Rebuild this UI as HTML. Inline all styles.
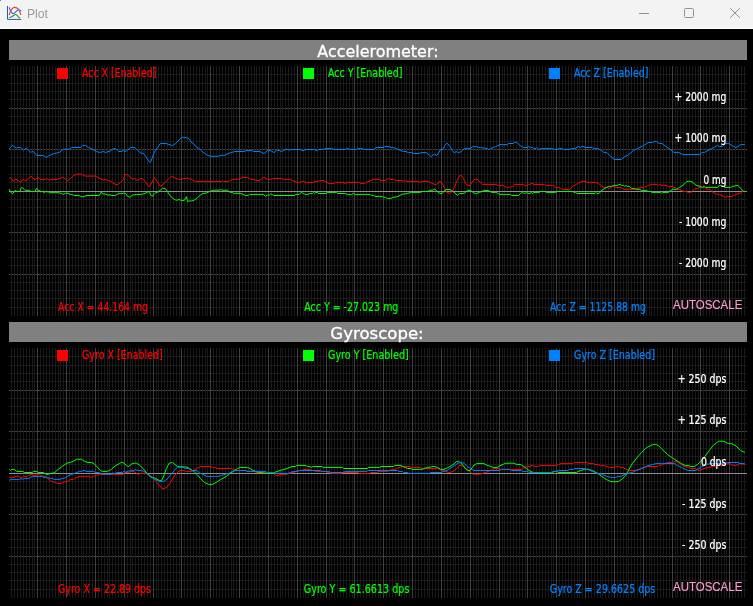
<!DOCTYPE html>
<html><head><meta charset="utf-8"><title>Plot</title>
<style>
html,body{margin:0;padding:0;background:#000;overflow:hidden}
body{width:753px;height:606px;position:relative;font-family:"Liberation Sans","DejaVu Sans",sans-serif}
#tb{position:absolute;left:0;top:0;width:753px;height:28px;background:#f3f3f3;border-bottom:1px solid #fff}
#tb .title{position:absolute;left:27px;top:7px;font-size:12.1px;color:#9a9a9a;line-height:15px;letter-spacing:0}
svg{position:absolute;left:0;top:0;will-change:transform}
#tb .title{will-change:transform}
.t{stroke-width:0.22px;paint-order:stroke;font-family:"DejaVu Sans Condensed","DejaVu Sans","Liberation Sans",sans-serif}
.h{stroke:#fff;stroke-width:0.3px;font-family:"DejaVu Sans","Liberation Sans",sans-serif}
.a{stroke:#ff9acd;stroke-width:0.15px;font-family:"Liberation Sans",sans-serif}
</style></head><body>
<div id="tb"><span class="title">Plot</span></div>
<svg width="753" height="606" viewBox="0 0 753 606">
<rect x="0" y="0" width="1" height="1" fill="#4a86c8"/>
<!-- window icon -->
<g fill="none" stroke-linecap="round" stroke-linejoin="round">
<path d="M7.5 6.3V19.4H20.8" stroke="#1f5fb0" stroke-width="1"/>
<path d="M14.6 7.4C15.8 7.4 17.6 8.4 18.7 9.5" stroke="#f03a3a" stroke-width="1.2"/>
<path d="M19.5 11.4C20.1 12.3 20.5 13.4 20.7 14.5" stroke="#f03a3a" stroke-width="1.2"/>
<path d="M9.3 7.6C9.6 9.2 10.4 11 11.3 12.2C12 13.2 12.6 13.7 13.3 13.7C14 13.7 14.5 13.1 15 12.6C15.8 11.8 16.5 10.9 17.3 10.4C18 9.9 18.6 9.9 19.2 10C19.8 10.2 20.3 10.5 20.8 10.8" stroke="#2a78e4" stroke-width="1.2"/>
<path d="M9.3 14.6C9.7 12.6 10.9 10.4 12.2 8.7C13 7.7 13.8 7.4 14.6 7.4" stroke="#f03a3a" stroke-width="1.2"/>
<path d="M9.4 17.5C10.3 17.5 11 17.2 11.7 16.8C12.6 16.3 13.2 15.7 13.9 15.2C14.5 14.8 15 14.5 15.6 14.5C16.2 14.5 16.7 14.8 17.2 15.3C17.7 15.9 18.1 16.6 18.5 17.2C18.8 17.6 19.2 17.8 19.7 17.9" stroke="#3c963c" stroke-width="1.2"/>
</g>
<!-- caption buttons -->
<g stroke="#929292" stroke-width="1" fill="none">
<path d="M639 13.5H649"/>
<rect x="684.5" y="8.5" width="9" height="9" rx="1"/>
<path d="M730.2 8.2L739.8 17.8M739.8 8.2L730.2 17.8"/>
</g>
<rect x="9" y="40" width="738" height="20" fill="#808080"/>
<text class="h" x="317.3" y="56.7" fill="#ffffff" font-size="15.5" text-anchor="start" textLength="121.3" lengthAdjust="spacingAndGlyphs">Accelerometer:</text>
<path d="M9 74.5H747 M9 83.5H747 M9 91.5H747 M9 99.5H747 M9 116.5H747 M9 124.5H747 M9 132.5H747 M9 141.5H747 M9 157.5H747 M9 166.5H747 M9 174.5H747 M9 182.5H747 M9 199.5H747 M9 207.5H747 M9 215.5H747 M9 224.5H747 M9 240.5H747 M9 249.5H747 M9 257.5H747 M9 265.5H747 M9 282.5H747 M9 290.5H747 M9 298.5H747 M9 307.5H747" stroke="#1b1b1b" stroke-width="1" fill="none"/>
<path d="M9 108.5H747 M9 149.5H747 M9 232.5H747 M9 274.5H747" stroke="#444444" stroke-width="1" fill="none"/>
<path d="M11.5 66V316 M14.5 66V316 M17.5 66V316 M20.5 66V316 M23.5 66V316 M26.5 66V316 M29.5 66V316 M32.5 66V316 M34.5 66V316 M40.5 66V316 M43.5 66V316 M46.5 66V316 M49.5 66V316 M52.5 66V316 M55.5 66V316 M58.5 66V316 M60.5 66V316 M63.5 66V316 M69.5 66V316 M72.5 66V316 M75.5 66V316 M78.5 66V316 M81.5 66V316 M83.5 66V316 M86.5 66V316 M89.5 66V316 M92.5 66V316 M98.5 66V316 M101.5 66V316 M104.5 66V316 M107.5 66V316 M109.5 66V316 M112.5 66V316 M115.5 66V316 M118.5 66V316 M121.5 66V316 M127.5 66V316 M130.5 66V316 M132.5 66V316 M135.5 66V316 M138.5 66V316 M141.5 66V316 M144.5 66V316 M147.5 66V316 M150.5 66V316 M156.5 66V316 M158.5 66V316 M161.5 66V316 M164.5 66V316 M167.5 66V316 M170.5 66V316 M173.5 66V316 M176.5 66V316 M179.5 66V316 M184.5 66V316 M187.5 66V316 M190.5 66V316 M193.5 66V316 M196.5 66V316 M199.5 66V316 M202.5 66V316 M205.5 66V316 M207.5 66V316 M213.5 66V316 M216.5 66V316 M219.5 66V316 M222.5 66V316 M225.5 66V316 M228.5 66V316 M231.5 66V316 M233.5 66V316 M236.5 66V316 M242.5 66V316 M245.5 66V316 M248.5 66V316 M251.5 66V316 M254.5 66V316 M256.5 66V316 M259.5 66V316 M262.5 66V316 M265.5 66V316 M271.5 66V316 M274.5 66V316 M277.5 66V316 M280.5 66V316 M282.5 66V316 M285.5 66V316 M288.5 66V316 M291.5 66V316 M294.5 66V316 M300.5 66V316 M303.5 66V316 M305.5 66V316 M308.5 66V316 M311.5 66V316 M314.5 66V316 M317.5 66V316 M320.5 66V316 M323.5 66V316 M329.5 66V316 M331.5 66V316 M334.5 66V316 M337.5 66V316 M340.5 66V316 M343.5 66V316 M346.5 66V316 M349.5 66V316 M352.5 66V316 M357.5 66V316 M360.5 66V316 M363.5 66V316 M366.5 66V316 M369.5 66V316 M372.5 66V316 M375.5 66V316 M378.5 66V316 M380.5 66V316 M386.5 66V316 M389.5 66V316 M392.5 66V316 M395.5 66V316 M398.5 66V316 M401.5 66V316 M404.5 66V316 M406.5 66V316 M409.5 66V316 M415.5 66V316 M418.5 66V316 M421.5 66V316 M424.5 66V316 M427.5 66V316 M429.5 66V316 M432.5 66V316 M435.5 66V316 M438.5 66V316 M444.5 66V316 M447.5 66V316 M450.5 66V316 M453.5 66V316 M455.5 66V316 M458.5 66V316 M461.5 66V316 M464.5 66V316 M467.5 66V316 M473.5 66V316 M476.5 66V316 M478.5 66V316 M481.5 66V316 M484.5 66V316 M487.5 66V316 M490.5 66V316 M493.5 66V316 M496.5 66V316 M502.5 66V316 M504.5 66V316 M507.5 66V316 M510.5 66V316 M513.5 66V316 M516.5 66V316 M519.5 66V316 M522.5 66V316 M525.5 66V316 M530.5 66V316 M533.5 66V316 M536.5 66V316 M539.5 66V316 M542.5 66V316 M545.5 66V316 M548.5 66V316 M551.5 66V316 M553.5 66V316 M559.5 66V316 M562.5 66V316 M565.5 66V316 M568.5 66V316 M571.5 66V316 M574.5 66V316 M577.5 66V316 M579.5 66V316 M582.5 66V316 M588.5 66V316 M591.5 66V316 M594.5 66V316 M597.5 66V316 M600.5 66V316 M602.5 66V316 M605.5 66V316 M608.5 66V316 M611.5 66V316 M617.5 66V316 M620.5 66V316 M623.5 66V316 M626.5 66V316 M628.5 66V316 M631.5 66V316 M634.5 66V316 M637.5 66V316 M640.5 66V316 M646.5 66V316 M649.5 66V316 M651.5 66V316 M654.5 66V316 M657.5 66V316 M660.5 66V316 M663.5 66V316 M666.5 66V316 M669.5 66V316 M675.5 66V316 M677.5 66V316 M680.5 66V316 M683.5 66V316 M686.5 66V316 M689.5 66V316 M692.5 66V316 M695.5 66V316 M698.5 66V316 M703.5 66V316 M706.5 66V316 M709.5 66V316 M712.5 66V316 M715.5 66V316 M718.5 66V316 M721.5 66V316 M724.5 66V316 M726.5 66V316 M732.5 66V316 M735.5 66V316 M738.5 66V316 M741.5 66V316 M744.5 66V316" stroke="#1b1b1b" stroke-width="1" fill="none"/>
<path d="M37.5 66V316 M66.5 66V316 M95.5 66V316 M124.5 66V316 M153.5 66V316 M181.5 66V316 M210.5 66V316 M239.5 66V316 M268.5 66V316 M297.5 66V316 M326.5 66V316 M354.5 66V316 M383.5 66V316 M412.5 66V316 M441.5 66V316 M470.5 66V316 M499.5 66V316 M527.5 66V316 M556.5 66V316 M585.5 66V316 M614.5 66V316 M643.5 66V316 M672.5 66V316 M700.5 66V316 M729.5 66V316" stroke="#404040" stroke-width="1" fill="none"/>
<path d="M9 191.5H747" stroke="#8e8e8e" stroke-width="1" fill="none"/>
<rect x="57" y="68" width="11" height="11" fill="#ff0000"/>
<text class="t" x="82" y="76.7" fill="#ff0000" stroke="#ff0000" font-size="11.4" text-anchor="start" textLength="74.4" lengthAdjust="spacingAndGlyphs">Acc X [Enabled]</text>
<rect x="303" y="68" width="11" height="11" fill="#00ff00"/>
<text class="t" x="328" y="76.7" fill="#00ff00" stroke="#00ff00" font-size="11.4" text-anchor="start" textLength="74.4" lengthAdjust="spacingAndGlyphs">Acc Y [Enabled]</text>
<rect x="549" y="68" width="11" height="11" fill="#0080ff"/>
<text class="t" x="574" y="76.7" fill="#0080ff" stroke="#0080ff" font-size="11.4" text-anchor="start" textLength="74.4" lengthAdjust="spacingAndGlyphs">Acc Z [Enabled]</text>
<polyline points="9.2,178.5 10.6,177.5 13.2,181.4 15.9,179.1 18.0,180.5 20.7,182.4 23.3,179.1 24.6,180.5 26.2,180.5 30.9,176.2 34.9,179.8 37.9,177.4 40.6,179.5 45.5,179.5 46.4,178.5 49.5,180.2 50.8,179.4 57.5,179.4 58.8,178.5 60.8,178.2 62.8,177.1 67.4,180.7 68.8,180.2 74.1,175.1 77.4,174.2 81.4,174.2 85.3,176.1 95.3,176.1 100.6,178.9 103.7,180.2 106.0,179.5 107.3,180.5 109.3,180.5 112.6,182.7 115.9,184.7 117.9,184.4 120.6,182.4 123.2,179.8 125.2,174.8 127.2,174.5 129.9,176.9 132.5,179.1 134.8,178.5 137.2,180.5 140.5,178.5 142.5,178.5 145.2,181.8 148.5,186.4 149.8,186.2 154.4,177.5 160.4,186.4 162.4,185.1 168.4,178.9 171.7,176.5 174.4,177.8 178.3,179.4 181.0,179.4 183.7,178.5 186.3,178.5 187.7,177.5 189.0,179.1 190.3,178.7 193.0,180.2 195.6,181.4 221.6,181.5 222.6,180.5 223.6,181.5 228.2,181.5 230.2,180.5 232.8,179.5 238.8,179.1 242.8,177.4 247.5,177.4 250.8,179.4 254.1,179.4 256.8,180.5 259.4,180.5 263.4,177.4 264.7,177.4 267.4,179.4 270.7,179.4 273.4,178.5 281.3,178.5 283.3,179.4 290.6,179.4 294.0,181.4 297.3,182.4 300.0,182.4 301.9,181.4 303.9,181.4 305.9,182.4 313.2,182.4 315.2,181.4 318.6,181.4 319.9,180.5 323.2,180.5 325.9,181.8 328.5,183.4 333.8,183.4 335.8,182.4 343.1,182.4 345.1,183.5 347.1,182.4 359.1,182.4 361.1,183.5 364.4,183.5 366.4,182.2 369.7,181.1 373.0,179.4 379.0,179.4 381.0,180.5 384.9,180.5 388.3,178.5 391.0,179.4 393.6,179.4 395.6,180.5 401.6,180.5 402.9,181.4 404.3,180.5 406.2,181.4 418.2,181.4 420.2,182.4 422.9,181.4 428.2,181.4 430.1,182.4 432.1,183.4 434.8,184.4 436.8,184.4 439.2,181.5 440.8,181.5 442.8,184.4 445.4,190.4 447.4,193.1 450.7,193.1 452.7,190.4 454.7,186.4 458.0,178.5 460.0,175.4 461.4,175.4 463.4,178.5 466.0,184.4 467.3,185.4 470.0,185.4 472.0,182.4 474.6,179.4 477.3,179.4 479.9,181.8 482.7,184.4 496.6,184.4 497.9,185.4 502.6,185.4 504.6,186.4 506.6,187.4 509.2,187.4 510.5,186.2 511.9,187.4 514.5,184.4 523.2,184.4 525.1,185.5 527.1,185.5 528.5,184.4 529.8,184.4 531.8,183.1 533.8,184.4 544.4,184.4 545.7,185.4 552.4,185.4 554.4,186.4 555.7,187.4 559.0,187.4 562.3,189.5 569.6,189.5 573.0,186.2 576.3,184.4 578.3,183.1 582.3,181.4 585.0,181.4 587.0,182.4 596.2,182.4 599.6,184.4 603.5,187.4 606.9,187.4 609.5,188.4 612.2,186.4 614.2,186.4 616.2,187.4 620.8,187.4 624.1,189.3 634.1,189.3 636.1,188.4 638.1,188.4 639.4,187.4 644.1,187.4 647.4,185.8 650.7,184.4 656.7,184.4 658.0,185.5 659.3,184.4 661.3,185.4 666.3,185.4 668.3,186.4 672.3,186.4 676.2,188.4 678.9,189.3 683.5,191.5 686.2,191.5 688.2,192.4 690.9,192.4 694.2,189.3 697.5,188.4 700.1,187.4 702.8,187.4 705.5,188.4 707.5,189.3 710.1,189.3 712.8,192.4 715.4,193.5 717.4,194.4 719.4,194.4 723.4,196.4 725.4,197.3 727.4,196.4 732.0,196.4 736.0,194.4 740.6,193.1 742.6,191.5 744.9,191.5" stroke="#ff0000" stroke-width="1" fill="none" stroke-linejoin="round"/>
<polyline points="9.2,189.1 10.3,192.0 12.7,193.7 14.0,191.8 15.6,190.2 16.3,191.5 19.9,191.5 21.2,187.8 22.5,187.8 24.3,189.5 26.0,190.4 29.6,190.2 30.9,191.5 34.9,191.5 36.6,188.4 38.2,190.4 39.8,190.4 40.9,191.8 42.9,191.5 43.5,192.4 45.5,191.8 48.2,191.8 49.5,192.7 58.1,192.7 60.8,193.3 63.4,194.4 65.4,193.3 68.1,193.3 70.1,194.4 72.7,194.8 74.1,195.5 78.7,195.5 81.4,196.7 84.0,196.7 86.0,195.5 99.3,195.5 101.3,191.8 102.7,194.0 105.3,194.0 108.0,195.1 110.0,194.8 112.0,195.5 115.3,195.5 118.6,193.7 121.2,193.7 123.9,193.1 125.9,193.7 127.9,196.7 129.9,197.3 132.5,195.1 136.5,194.4 141.8,194.4 145.2,193.3 148.5,191.5 151.8,196.4 155.8,192.7 158.4,191.8 162.4,188.4 165.1,188.4 167.1,191.1 169.7,195.1 172.4,198.0 175.7,200.1 177.7,200.1 179.0,199.4 181.0,200.4 184.3,200.4 186.3,196.7 187.7,201.7 189.2,200.8 191.6,201.0 194.3,200.1 196.9,198.4 200.3,195.1 203.0,193.3 206.3,193.1 209.6,191.5 213.6,190.2 219.6,190.2 220.5,189.1 221.6,190.2 227.5,190.2 230.2,192.4 232.2,192.4 233.5,193.3 240.8,193.3 245.5,195.5 248.1,195.5 249.4,194.4 263.4,194.4 265.4,196.4 267.4,195.1 269.4,195.1 270.7,194.0 272.0,194.4 273.4,195.5 294.6,195.5 296.0,194.4 299.3,194.4 301.3,192.4 303.3,193.5 305.3,194.4 307.9,194.4 309.9,193.5 312.6,193.3 313.6,192.4 314.6,193.3 315.9,192.4 317.2,192.4 318.6,193.5 325.9,193.5 327.9,192.4 336.5,192.4 337.8,193.5 345.1,193.5 347.1,194.4 351.8,194.4 353.5,193.3 355.1,194.4 370.4,194.4 371.7,195.5 373.7,195.5 375.0,196.4 382.3,196.4 383.6,197.3 385.6,197.3 386.9,198.4 387.7,198.4 391.0,198.4 393.0,197.3 395.6,197.1 398.9,196.0 401.6,194.4 406.9,193.5 411.6,192.4 420.2,192.4 422.2,191.5 427.5,191.5 429.5,190.4 432.8,190.2 434.8,189.1 436.1,190.2 438.1,192.4 440.1,193.5 442.1,193.5 444.1,191.1 446.1,189.5 450.1,189.5 452.1,191.1 454.1,192.4 457.4,195.3 459.4,193.5 462.0,193.5 464.7,193.1 467.3,190.4 470.0,190.2 472.0,191.5 474.0,193.1 476.6,193.5 479.3,192.4 481.9,191.5 483.3,190.4 488.0,190.4 490.0,191.5 491.9,192.4 495.9,192.4 498.6,193.5 499.9,194.4 510.5,194.4 511.9,195.5 518.5,195.5 520.5,193.5 522.5,192.4 523.8,193.3 525.8,193.3 526.8,192.4 527.8,193.5 529.8,193.5 531.1,192.4 532.5,193.5 533.8,192.4 539.1,192.4 540.4,191.5 545.1,191.5 546.4,192.4 555.7,192.4 557.0,191.5 572.3,191.5 574.3,192.4 575.6,192.4 577.0,193.5 594.9,193.5 596.0,192.4 596.9,193.5 598.9,193.5 601.6,190.4 604.9,188.4 608.2,186.4 611.5,186.4 613.5,185.4 617.5,185.4 618.8,184.4 620.1,184.4 621.5,185.4 623.5,185.4 624.8,186.4 626.1,185.4 627.5,186.4 629.5,186.4 631.4,188.4 634.1,188.4 635.4,189.3 640.1,189.3 641.4,190.4 646.7,190.4 648.0,191.5 650.7,191.5 652.0,192.4 660.7,192.4 661.6,193.3 662.6,192.4 668.3,192.4 672.3,189.3 676.9,189.3 679.6,187.4 682.9,185.4 686.9,181.5 689.5,181.1 692.8,182.4 696.2,185.4 700.1,186.4 702.8,187.4 704.1,186.2 705.5,187.4 717.4,187.4 720.1,185.1 722.1,186.4 723.4,186.4 724.7,187.4 730.7,187.4 732.7,186.2 734.7,186.2 736.0,185.4 738.0,185.4 740.6,188.4 744.0,191.5 744.9,191.5" stroke="#00ff00" stroke-width="1" fill="none" stroke-linejoin="round"/>
<polyline points="9.2,149.0 12.3,145.3 14.3,146.9 16.7,148.2 17.6,147.4 20.7,147.4 23.6,150.3 26.0,148.2 27.8,149.5 30.9,152.6 32.2,151.2 34.0,152.2 36.6,155.5 43.5,155.5 46.4,157.5 48.8,155.6 50.8,155.1 54.1,153.5 56.1,153.2 59.5,152.3 63.4,149.2 69.4,149.2 71.4,147.5 80.7,147.5 82.7,145.4 85.3,145.4 88.7,147.5 91.3,148.6 96.6,151.6 99.3,152.4 104.0,151.6 105.3,152.6 108.0,151.6 110.0,151.2 113.3,148.6 115.9,148.6 118.6,151.5 121.2,151.5 123.2,150.6 125.9,151.5 130.5,147.5 134.8,147.5 137.8,150.6 141.2,153.2 143.2,153.2 145.8,156.6 149.8,162.5 151.1,161.2 153.8,153.2 160.4,143.5 166.4,143.5 169.1,144.6 172.4,145.5 175.7,143.5 180.3,138.6 182.3,137.3 185.0,137.3 189.0,138.6 191.6,142.6 193.6,143.7 196.9,147.7 198.3,147.7 201.0,150.6 204.3,153.2 207.6,155.5 210.9,156.3 218.2,156.3 220.2,155.5 224.9,155.2 228.2,153.5 230.9,152.6 234.8,151.5 244.1,151.5 246.1,150.6 252.1,150.6 253.4,151.5 260.1,151.5 262.7,153.2 264.7,153.2 267.4,150.6 270.7,150.6 274.0,152.6 276.7,150.3 279.3,150.6 281.3,151.5 283.3,150.6 286.0,149.2 288.0,149.5 289.3,150.3 290.6,149.5 300.6,149.5 301.9,150.6 303.9,150.6 305.3,149.5 314.6,149.5 315.9,150.6 317.2,150.6 318.6,149.5 323.2,149.5 324.8,148.6 332.5,148.6 333.8,149.5 345.1,149.5 346.4,148.6 348.4,148.6 349.8,149.5 356.4,149.5 357.7,148.6 362.4,148.6 363.7,149.5 373.7,149.5 376.3,147.5 383.0,147.5 384.6,146.6 389.0,146.6 391.0,147.5 393.6,147.5 395.6,148.6 397.6,149.2 400.9,150.6 403.6,151.5 406.2,151.5 408.2,152.6 411.6,152.6 413.6,153.5 418.9,153.5 420.9,152.6 426.2,152.6 428.8,154.6 430.8,156.6 433.5,154.6 434.8,154.3 436.8,155.5 438.8,152.6 440.5,149.5 442.8,149.5 444.8,145.3 446.4,143.5 448.1,143.9 450.1,146.6 452.1,150.6 454.1,152.6 456.1,151.6 458.7,152.6 461.4,151.6 464.0,148.6 466.0,148.6 468.0,148.2 470.0,148.6 472.6,146.6 476.6,146.6 478.6,147.5 480.6,147.5 487.3,148.6 488.6,149.5 490.6,148.6 493.3,147.5 495.9,146.6 499.9,144.6 507.2,144.6 508.6,143.5 513.2,143.5 514.5,142.3 516.5,142.3 519.8,145.3 523.2,147.5 527.1,147.5 528.5,146.6 530.5,147.5 532.5,147.5 533.8,148.6 535.8,148.6 536.8,147.5 537.8,148.6 539.1,149.5 541.1,148.6 552.4,148.6 554.4,149.5 557.0,149.5 559.0,148.6 562.3,148.6 563.7,149.5 569.6,149.5 571.6,148.6 575.0,148.6 578.3,146.6 580.3,147.5 583.0,146.3 585.6,147.5 592.3,147.5 594.3,148.6 598.2,148.6 601.6,150.6 604.2,152.6 606.9,152.6 610.9,156.6 614.2,159.5 621.5,159.5 624.8,156.3 627.5,155.5 633.4,150.6 637.4,148.6 644.1,145.3 648.0,142.6 652.7,142.3 654.7,141.3 656.7,141.6 659.3,143.5 662.0,143.5 666.3,146.6 670.3,149.5 674.2,152.6 678.9,152.6 682.9,154.6 699.5,154.6 702.1,152.6 704.1,152.6 711.4,148.6 714.1,147.5 717.4,145.3 719.4,146.6 722.1,146.6 726.0,143.3 728.7,143.5 732.7,145.9 736.0,147.7 738.0,146.6 740.6,144.6 744.9,144.6" stroke="#0080ff" stroke-width="1" fill="none" stroke-linejoin="round"/>
<text class="t" x="58" y="310.7" fill="#ff0000" stroke="#ff0000" font-size="11.4" text-anchor="start" textLength="90" lengthAdjust="spacingAndGlyphs">Acc X = 44.164 mg</text>
<text class="t" x="304.2" y="310.7" fill="#00ff00" stroke="#00ff00" font-size="11.4" text-anchor="start" textLength="94.2" lengthAdjust="spacingAndGlyphs">Acc Y = -27.023 mg</text>
<text class="t" x="550" y="310.7" fill="#0080ff" stroke="#0080ff" font-size="11.4" text-anchor="start" textLength="96" lengthAdjust="spacingAndGlyphs">Acc Z = 1125.88 mg</text>
<text class="t" x="674.5" y="100.7" fill="#ffffff" stroke="#ffffff" stroke-width="0.12" font-size="11.4" text-anchor="start" textLength="51.8" lengthAdjust="spacingAndGlyphs">+ 2000 mg</text>
<text class="t" x="674.5" y="142.37" fill="#ffffff" stroke="#ffffff" stroke-width="0.12" font-size="11.4" text-anchor="start" textLength="51.8" lengthAdjust="spacingAndGlyphs">+ 1000 mg</text>
<text class="t" x="703.5" y="184.04000000000002" fill="#ffffff" stroke="#ffffff" stroke-width="0.12" font-size="11.4" text-anchor="start" textLength="22.8" lengthAdjust="spacingAndGlyphs">0 mg</text>
<text class="t" x="678.9" y="225.71" fill="#ffffff" stroke="#ffffff" stroke-width="0.12" font-size="11.4" text-anchor="start" textLength="47.4" lengthAdjust="spacingAndGlyphs">- 1000 mg</text>
<text class="t" x="678.9" y="267.38" fill="#ffffff" stroke="#ffffff" stroke-width="0.12" font-size="11.4" text-anchor="start" textLength="47.4" lengthAdjust="spacingAndGlyphs">- 2000 mg</text>
<text class="a" x="673" y="309" fill="#ff9acd" font-size="12.2" text-anchor="start" textLength="69.3" lengthAdjust="spacingAndGlyphs">AUTOSCALE</text>
<rect x="9" y="322" width="738" height="20" fill="#808080"/>
<text class="h" x="330.3" y="338.7" fill="#ffffff" font-size="15.5" text-anchor="start" textLength="93.4" lengthAdjust="spacingAndGlyphs">Gyroscope:</text>
<path d="M9 356.5H747 M9 365.5H747 M9 373.5H747 M9 381.5H747 M9 398.5H747 M9 406.5H747 M9 414.5H747 M9 423.5H747 M9 439.5H747 M9 448.5H747 M9 456.5H747 M9 464.5H747 M9 481.5H747 M9 489.5H747 M9 497.5H747 M9 506.5H747 M9 522.5H747 M9 531.5H747 M9 539.5H747 M9 547.5H747 M9 564.5H747 M9 572.5H747 M9 580.5H747 M9 589.5H747" stroke="#1b1b1b" stroke-width="1" fill="none"/>
<path d="M9 390.5H747 M9 431.5H747 M9 514.5H747 M9 556.5H747" stroke="#444444" stroke-width="1" fill="none"/>
<path d="M11.5 348V598 M14.5 348V598 M17.5 348V598 M20.5 348V598 M23.5 348V598 M26.5 348V598 M29.5 348V598 M32.5 348V598 M34.5 348V598 M40.5 348V598 M43.5 348V598 M46.5 348V598 M49.5 348V598 M52.5 348V598 M55.5 348V598 M58.5 348V598 M60.5 348V598 M63.5 348V598 M69.5 348V598 M72.5 348V598 M75.5 348V598 M78.5 348V598 M81.5 348V598 M83.5 348V598 M86.5 348V598 M89.5 348V598 M92.5 348V598 M98.5 348V598 M101.5 348V598 M104.5 348V598 M107.5 348V598 M109.5 348V598 M112.5 348V598 M115.5 348V598 M118.5 348V598 M121.5 348V598 M127.5 348V598 M130.5 348V598 M132.5 348V598 M135.5 348V598 M138.5 348V598 M141.5 348V598 M144.5 348V598 M147.5 348V598 M150.5 348V598 M156.5 348V598 M158.5 348V598 M161.5 348V598 M164.5 348V598 M167.5 348V598 M170.5 348V598 M173.5 348V598 M176.5 348V598 M179.5 348V598 M184.5 348V598 M187.5 348V598 M190.5 348V598 M193.5 348V598 M196.5 348V598 M199.5 348V598 M202.5 348V598 M205.5 348V598 M207.5 348V598 M213.5 348V598 M216.5 348V598 M219.5 348V598 M222.5 348V598 M225.5 348V598 M228.5 348V598 M231.5 348V598 M233.5 348V598 M236.5 348V598 M242.5 348V598 M245.5 348V598 M248.5 348V598 M251.5 348V598 M254.5 348V598 M256.5 348V598 M259.5 348V598 M262.5 348V598 M265.5 348V598 M271.5 348V598 M274.5 348V598 M277.5 348V598 M280.5 348V598 M282.5 348V598 M285.5 348V598 M288.5 348V598 M291.5 348V598 M294.5 348V598 M300.5 348V598 M303.5 348V598 M305.5 348V598 M308.5 348V598 M311.5 348V598 M314.5 348V598 M317.5 348V598 M320.5 348V598 M323.5 348V598 M329.5 348V598 M331.5 348V598 M334.5 348V598 M337.5 348V598 M340.5 348V598 M343.5 348V598 M346.5 348V598 M349.5 348V598 M352.5 348V598 M357.5 348V598 M360.5 348V598 M363.5 348V598 M366.5 348V598 M369.5 348V598 M372.5 348V598 M375.5 348V598 M378.5 348V598 M380.5 348V598 M386.5 348V598 M389.5 348V598 M392.5 348V598 M395.5 348V598 M398.5 348V598 M401.5 348V598 M404.5 348V598 M406.5 348V598 M409.5 348V598 M415.5 348V598 M418.5 348V598 M421.5 348V598 M424.5 348V598 M427.5 348V598 M429.5 348V598 M432.5 348V598 M435.5 348V598 M438.5 348V598 M444.5 348V598 M447.5 348V598 M450.5 348V598 M453.5 348V598 M455.5 348V598 M458.5 348V598 M461.5 348V598 M464.5 348V598 M467.5 348V598 M473.5 348V598 M476.5 348V598 M478.5 348V598 M481.5 348V598 M484.5 348V598 M487.5 348V598 M490.5 348V598 M493.5 348V598 M496.5 348V598 M502.5 348V598 M504.5 348V598 M507.5 348V598 M510.5 348V598 M513.5 348V598 M516.5 348V598 M519.5 348V598 M522.5 348V598 M525.5 348V598 M530.5 348V598 M533.5 348V598 M536.5 348V598 M539.5 348V598 M542.5 348V598 M545.5 348V598 M548.5 348V598 M551.5 348V598 M553.5 348V598 M559.5 348V598 M562.5 348V598 M565.5 348V598 M568.5 348V598 M571.5 348V598 M574.5 348V598 M577.5 348V598 M579.5 348V598 M582.5 348V598 M588.5 348V598 M591.5 348V598 M594.5 348V598 M597.5 348V598 M600.5 348V598 M602.5 348V598 M605.5 348V598 M608.5 348V598 M611.5 348V598 M617.5 348V598 M620.5 348V598 M623.5 348V598 M626.5 348V598 M628.5 348V598 M631.5 348V598 M634.5 348V598 M637.5 348V598 M640.5 348V598 M646.5 348V598 M649.5 348V598 M651.5 348V598 M654.5 348V598 M657.5 348V598 M660.5 348V598 M663.5 348V598 M666.5 348V598 M669.5 348V598 M675.5 348V598 M677.5 348V598 M680.5 348V598 M683.5 348V598 M686.5 348V598 M689.5 348V598 M692.5 348V598 M695.5 348V598 M698.5 348V598 M703.5 348V598 M706.5 348V598 M709.5 348V598 M712.5 348V598 M715.5 348V598 M718.5 348V598 M721.5 348V598 M724.5 348V598 M726.5 348V598 M732.5 348V598 M735.5 348V598 M738.5 348V598 M741.5 348V598 M744.5 348V598" stroke="#1b1b1b" stroke-width="1" fill="none"/>
<path d="M37.5 348V598 M66.5 348V598 M95.5 348V598 M124.5 348V598 M153.5 348V598 M181.5 348V598 M210.5 348V598 M239.5 348V598 M268.5 348V598 M297.5 348V598 M326.5 348V598 M354.5 348V598 M383.5 348V598 M412.5 348V598 M441.5 348V598 M470.5 348V598 M499.5 348V598 M527.5 348V598 M556.5 348V598 M585.5 348V598 M614.5 348V598 M643.5 348V598 M672.5 348V598 M700.5 348V598 M729.5 348V598" stroke="#404040" stroke-width="1" fill="none"/>
<path d="M9 473.5H747" stroke="#8e8e8e" stroke-width="1" fill="none"/>
<rect x="57" y="350" width="11" height="11" fill="#ff0000"/>
<text class="t" x="82" y="358.7" fill="#ff0000" stroke="#ff0000" font-size="11.4" text-anchor="start" textLength="80.7" lengthAdjust="spacingAndGlyphs">Gyro X [Enabled]</text>
<rect x="303" y="350" width="11" height="11" fill="#00ff00"/>
<text class="t" x="328" y="358.7" fill="#00ff00" stroke="#00ff00" font-size="11.4" text-anchor="start" textLength="80.7" lengthAdjust="spacingAndGlyphs">Gyro Y [Enabled]</text>
<rect x="549" y="350" width="11" height="11" fill="#0080ff"/>
<text class="t" x="574" y="358.7" fill="#0080ff" stroke="#0080ff" font-size="11.4" text-anchor="start" textLength="81" lengthAdjust="spacingAndGlyphs">Gyro Z [Enabled]</text>
<polyline points="9.2,477.4 14.3,477.4 15.6,476.4 18.9,476.4 20.9,477.8 23.6,476.4 26.9,476.4 29.6,475.1 31.6,474.4 33.5,475.4 36.9,475.1 38.2,474.2 40.2,475.4 42.9,476.4 45.5,476.4 47.5,478.4 50.8,481.1 54.8,482.4 57.5,483.5 61.4,483.5 64.1,481.8 67.4,481.4 70.7,479.5 73.4,479.4 76.7,477.4 80.0,476.4 89.3,476.4 91.3,477.5 93.3,476.4 96.0,475.4 98.6,474.4 123.2,474.4 125.2,472.5 128.6,472.5 131.9,471.1 133.9,471.5 136.5,473.4 138.5,474.4 139.8,473.4 145.8,473.4 148.5,474.4 152.5,477.4 155.8,481.4 159.1,485.1 161.8,488.4 164.4,488.4 167.1,487.1 169.7,483.8 172.4,479.1 175.7,474.4 179.0,471.1 181.0,470.5 183.7,470.5 186.3,471.4 191.6,471.4 194.3,469.8 197.7,468.1 201.0,466.5 210.3,466.5 212.3,467.4 215.6,467.4 216.9,468.5 231.5,468.5 233.5,469.4 235.5,469.4 237.5,470.5 245.5,470.5 247.5,471.4 254.8,471.4 256.1,472.5 265.4,472.5 267.4,473.4 273.4,473.4 275.4,475.4 278.7,475.4 280.0,474.4 286.6,474.4 288.6,473.4 294.0,472.5 296.0,471.4 298.0,470.5 301.9,470.5 303.3,469.4 310.6,469.4 311.9,470.5 313.9,470.5 315.2,471.4 325.9,471.4 327.2,472.5 329.8,472.5 331.2,473.4 341.8,473.4 343.1,472.5 357.7,472.5 359.1,473.4 369.7,473.4 371.0,472.5 377.0,472.5 378.3,471.4 387.7,471.4 389.6,470.5 392.3,469.4 395.0,469.4 397.6,468.1 400.3,467.1 402.3,466.5 409.6,466.5 411.6,467.4 420.2,467.4 421.5,468.5 437.5,468.5 439.4,469.4 441.4,470.5 445.4,471.4 448.8,472.5 450.7,472.5 454.1,470.5 456.7,468.5 459.4,465.6 462.0,465.6 464.7,467.4 467.3,469.4 470.0,471.4 472.6,474.2 479.9,474.2 482.7,473.4 485.3,472.5 488.0,471.4 490.6,470.5 493.3,468.5 499.3,468.5 501.2,469.4 521.2,469.4 522.5,468.5 525.1,467.4 527.1,466.5 529.8,466.5 531.1,465.6 533.1,465.6 535.1,466.5 537.8,466.5 539.8,465.6 556.4,465.6 558.4,464.5 561.0,463.6 572.3,463.6 574.3,462.5 587.0,462.5 588.9,463.6 593.6,463.6 594.9,464.5 598.2,464.5 600.9,465.6 604.2,465.6 606.9,466.5 609.5,467.4 613.5,467.4 615.5,466.5 618.8,466.5 620.8,467.4 623.5,467.8 626.1,469.4 629.5,470.5 634.8,470.5 637.4,469.8 640.7,468.5 644.1,467.4 647.4,466.5 657.3,466.5 659.3,465.6 662.6,464.5 667.6,462.5 672.3,462.5 674.9,461.4 677.6,462.2 681.5,464.5 684.9,466.5 688.9,467.4 690.9,468.5 694.8,468.5 696.8,469.4 698.8,470.5 700.8,469.8 704.1,468.5 708.1,467.4 712.8,466.5 716.8,465.6 720.1,465.6 722.1,464.5 725.4,464.5 727.4,463.6 730.0,463.6 732.7,465.1 735.3,465.6 738.0,464.5 739.3,463.6 742.6,463.8 744.9,464.5" stroke="#ff0000" stroke-width="1" fill="none" stroke-linejoin="round"/>
<polyline points="9.2,469.1 10.6,470.5 11.6,469.4 14.3,469.4 16.9,471.4 22.9,471.4 24.3,472.5 32.2,472.5 33.5,471.4 36.9,471.4 38.2,472.5 43.5,472.5 46.2,474.4 48.2,474.4 50.1,473.4 52.8,473.1 54.8,472.5 58.1,469.4 62.1,466.5 66.8,463.2 70.1,462.5 73.4,461.2 76.7,459.2 81.4,459.2 84.7,461.4 88.0,462.5 91.3,462.5 94.0,463.6 97.3,467.1 100.6,470.5 102.7,471.4 107.3,471.4 111.3,469.4 115.3,465.8 119.3,463.6 121.9,462.2 123.9,463.2 126.6,465.6 128.6,466.5 131.9,463.8 134.5,463.2 136.5,463.2 139.2,464.8 143.8,469.4 147.1,473.4 150.5,477.1 152.5,477.4 155.8,478.4 159.1,480.4 161.8,480.4 163.8,475.8 166.4,468.5 169.1,463.2 172.4,462.5 175.0,464.5 177.7,466.5 187.0,467.1 190.3,469.1 194.3,471.8 197.7,475.1 200.3,478.4 204.3,482.4 208.9,484.4 212.3,484.4 216.2,482.4 220.9,479.4 226.2,476.4 230.2,473.4 234.8,470.5 237.5,468.5 240.2,467.4 247.5,467.4 250.1,468.5 252.1,469.8 255.4,471.4 260.7,472.5 264.1,473.4 273.4,473.4 276.0,471.8 280.0,470.5 284.0,469.4 288.0,468.1 291.9,466.5 295.3,466.5 296.6,465.4 305.9,465.4 307.3,466.5 309.9,466.5 311.2,467.4 313.2,466.5 321.9,466.5 323.2,467.4 342.5,467.4 343.8,468.5 367.0,468.5 369.0,467.4 379.6,467.4 381.0,466.5 393.6,466.5 395.0,465.4 400.9,465.4 402.9,466.5 405.6,467.4 407.6,468.5 410.9,468.5 412.2,469.4 422.2,469.4 424.2,468.5 427.5,467.4 430.8,467.1 432.1,466.5 434.1,466.5 437.5,467.4 440.8,469.4 444.1,469.4 447.4,467.8 451.4,465.8 454.1,463.8 456.7,461.4 458.7,461.4 460.7,462.8 463.4,465.8 466.0,469.4 468.0,470.5 470.0,470.5 472.0,467.8 474.0,465.1 476.6,463.6 484.0,463.6 486.6,465.1 490.6,466.5 493.3,467.4 497.3,467.4 499.9,465.8 503.2,464.2 505.9,463.2 513.9,463.2 515.9,464.2 520.5,464.5 523.8,466.5 526.5,468.5 529.1,470.5 531.1,471.4 533.1,472.5 538.4,473.4 543.8,473.4 551.7,473.1 553.0,471.8 556.4,471.4 559.0,472.5 576.3,472.5 579.0,471.1 583.0,469.8 585.0,469.1 588.9,469.4 593.6,471.1 597.6,473.4 601.6,476.4 606.2,479.4 610.2,481.4 614.8,481.8 618.8,481.4 622.1,479.1 625.5,475.8 628.1,471.1 632.1,463.8 636.8,457.9 641.4,452.5 646.7,447.6 651.4,445.2 654.7,444.2 658.0,445.2 661.3,448.6 667.6,454.5 672.3,457.9 677.6,461.2 681.5,463.6 685.5,465.6 688.9,465.6 690.9,466.5 694.2,466.5 697.5,464.5 700.8,461.2 704.8,456.5 708.8,451.2 712.8,445.9 716.8,442.6 718.7,441.2 724.0,441.2 726.0,442.6 728.7,443.6 731.4,443.6 736.0,445.9 740.6,450.5 744.9,452.5" stroke="#00ff00" stroke-width="1" fill="none" stroke-linejoin="round"/>
<polyline points="9.2,480.4 11.0,479.4 19.6,479.4 20.9,478.4 22.3,479.4 24.3,478.4 28.9,478.4 32.2,476.4 42.2,476.4 43.5,477.4 47.5,477.4 50.1,478.4 52.1,478.4 54.1,479.4 60.1,479.4 62.1,478.4 64.1,478.4 67.4,476.4 71.4,474.4 75.4,473.1 79.4,471.4 82.7,471.1 84.0,470.2 86.0,471.4 93.3,471.4 95.3,472.5 98.6,472.5 100.6,473.4 104.0,474.2 111.3,474.2 112.6,473.1 114.6,473.4 117.3,472.5 122.6,472.5 123.9,471.4 125.9,472.2 128.6,471.1 131.9,470.5 133.9,470.5 135.2,469.4 137.2,470.5 141.2,470.5 143.8,471.4 146.5,473.4 149.8,475.4 153.1,478.4 157.1,480.4 159.1,481.4 163.8,481.4 167.1,479.1 171.1,474.4 174.4,470.5 177.0,467.4 179.7,467.1 183.0,467.4 185.7,468.5 188.3,468.5 191.6,470.5 196.9,470.5 199.7,473.1 203.0,474.4 206.9,476.4 218.2,476.4 221.6,475.4 225.5,474.2 229.5,473.1 232.2,471.4 234.8,470.5 245.5,470.5 246.8,471.4 265.4,471.4 267.4,472.5 273.4,472.5 274.7,473.4 288.0,473.4 290.6,472.5 293.3,471.4 298.0,471.4 299.3,470.5 320.5,470.5 321.9,471.4 329.2,471.4 330.5,472.5 343.1,472.5 344.4,471.4 366.4,471.4 368.4,470.5 397.6,470.5 398.9,471.4 402.3,471.4 403.6,472.5 407.6,472.5 408.9,473.4 429.5,473.4 430.8,472.5 441.4,472.5 443.4,471.4 446.8,470.5 450.1,468.5 453.4,466.5 456.1,464.5 458.0,463.2 460.7,462.5 464.0,463.2 467.3,466.5 471.3,469.4 474.0,470.5 499.9,470.5 501.2,469.4 509.9,469.4 511.2,470.5 521.2,470.5 522.5,471.4 527.8,471.4 529.1,472.5 551.7,472.5 553.0,471.4 556.4,471.4 558.4,470.5 567.6,470.5 569.6,469.4 573.6,469.4 575.0,468.5 583.6,468.5 585.6,469.4 588.3,469.4 592.3,471.4 597.6,473.4 601.6,474.4 606.9,476.4 610.9,477.4 615.5,477.4 617.5,476.4 620.8,476.4 624.1,474.7 628.1,473.4 632.1,472.5 636.1,470.5 640.1,469.4 644.1,467.4 648.0,465.6 652.7,464.5 656.0,463.6 661.3,463.4 674.9,463.6 677.6,465.6 681.5,467.4 685.5,469.4 688.2,470.5 695.5,470.5 698.8,468.5 702.1,466.5 706.1,464.5 710.1,463.6 715.4,463.6 719.4,463.6 725.4,463.6 727.4,462.5 738.0,462.5 740.0,463.6 744.9,463.6" stroke="#0080ff" stroke-width="1" fill="none" stroke-linejoin="round"/>
<text class="t" x="58" y="592.7" fill="#ff0000" stroke="#ff0000" font-size="11.4" text-anchor="start" textLength="93" lengthAdjust="spacingAndGlyphs">Gyro X = 22.89 dps</text>
<text class="t" x="303.8" y="592.7" fill="#00ff00" stroke="#00ff00" font-size="11.4" text-anchor="start" textLength="105.6" lengthAdjust="spacingAndGlyphs">Gyro Y = 61.6613 dps</text>
<text class="t" x="549.8" y="592.7" fill="#0080ff" stroke="#0080ff" font-size="11.4" text-anchor="start" textLength="105.5" lengthAdjust="spacingAndGlyphs">Gyro Z = 29.6625 dps</text>
<text class="t" x="677.7" y="382.7" fill="#ffffff" stroke="#ffffff" stroke-width="0.12" font-size="11.4" text-anchor="start" textLength="48.6" lengthAdjust="spacingAndGlyphs">+ 250 dps</text>
<text class="t" x="677.7" y="424.37" fill="#ffffff" stroke="#ffffff" stroke-width="0.12" font-size="11.4" text-anchor="start" textLength="48.6" lengthAdjust="spacingAndGlyphs">+ 125 dps</text>
<text class="t" x="700.9" y="466.03999999999996" fill="#ffffff" stroke="#ffffff" stroke-width="0.12" font-size="11.4" text-anchor="start" textLength="25.4" lengthAdjust="spacingAndGlyphs">0 dps</text>
<text class="t" x="682.1" y="507.71" fill="#ffffff" stroke="#ffffff" stroke-width="0.12" font-size="11.4" text-anchor="start" textLength="44.2" lengthAdjust="spacingAndGlyphs">- 125 dps</text>
<text class="t" x="682.1" y="549.38" fill="#ffffff" stroke="#ffffff" stroke-width="0.12" font-size="11.4" text-anchor="start" textLength="44.2" lengthAdjust="spacingAndGlyphs">- 250 dps</text>
<text class="a" x="673" y="591" fill="#ff9acd" font-size="12.2" text-anchor="start" textLength="69.3" lengthAdjust="spacingAndGlyphs">AUTOSCALE</text>
</svg>
</body></html>
